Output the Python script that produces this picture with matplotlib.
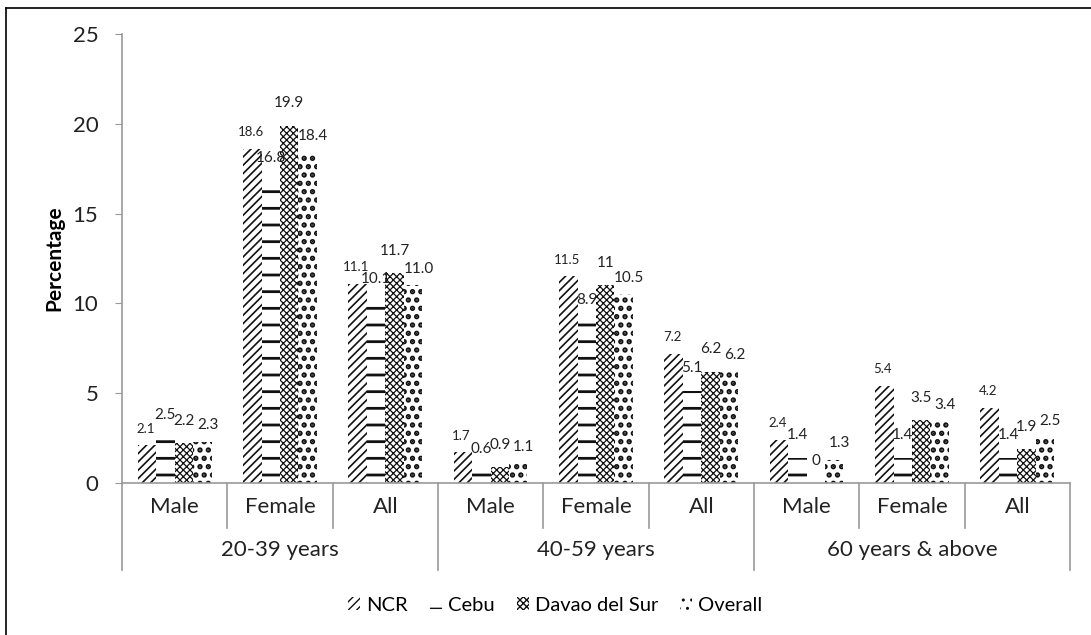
import matplotlib.pyplot as plt
import numpy as np

plt.rcParams['font.family'] = ['Lato', 'DejaVu Sans']

groups = ['20-39 years', '40-59 years', '60 years & above']
subcats = ['Male', 'Female', 'All'] * 3
series = ['NCR', 'Cebu', 'Davao del Sur', 'Overall']

ncr = [2.1, 18.6, 11.1, 1.7, 11.5, 7.2, 2.4, 5.4, 4.2]
cebu = [2.5, 16.8, 10.1, 0.6, 8.9, 5.1, 1.4, 1.4, 1.4]
davao = [2.2, 19.9, 11.7, 0.9, 11.0, 6.2, 0.0, 3.5, 1.9]
overall = [2.3, 18.4, 11.0, 1.1, 10.5, 6.2, 1.3, 3.4, 2.5]

ncr_lbl = ['2.1', '18.6', '11.1', '1.7', '11.5', '7.2', '2.4', '5.4', '4.2']
cebu_lbl = ['2.5', '16.8', '10.1', '0.6', '8.9', '5.1', '1.4', '1.4', '1.4']
davao_lbl = ['2.2', '19.9', '11.7', '0.9', '11', '6.2', '0', '3.5', '1.9']
overall_lbl = ['2.3', '18.4', '11.0', '1.1', '10.5', '6.2', '1.3', '3.4', '2.5']

fig = plt.figure(figsize=(10.91, 6.35), dpi=100)
ax = fig.add_axes([0.1118, 0.2394, 0.8689, 0.7071])

x = np.arange(len(subcats))
w = 0.175
hatches = ['////', '-', 'xxxxx', '..']
hlw = [1.2, 2.0, 0.9, 2.6]
data = [ncr, cebu, davao, overall]
labels = [ncr_lbl, cebu_lbl, davao_lbl, overall_lbl]
dx = [-1, 0, 0, 4]
dy = [12, 16.5, 16, 12]
for i, (vals, lbls) in enumerate(zip(data, labels)):
    plt.rcParams['hatch.linewidth'] = hlw[i]
    pos = x + (i - 1.5) * w
    ax.bar(pos, vals, w, color='white', edgecolor='#111111', linewidth=0,
           hatch=hatches[i], label=series[i])
    fs = 9.5 if i == 0 else 11
    for p, v, t in zip(pos, vals, lbls):
        ax.annotate(t, (p, v), xytext=(dx[i], dy[i]), textcoords='offset points',
                    ha='center', va='center', fontsize=fs, color='#222222')

ax.set_xlim(-0.5, len(subcats) - 0.5)
ax.set_ylim(0, 25)
ax.set_yticks(range(0, 26, 5))
ax.tick_params(axis='y', labelsize=16, colors='#222222', direction='out', length=5, color='#999999', pad=12)
ax.set_xticks([])
for s in ['top', 'right']:
    ax.spines[s].set_visible(False)
for s in ['left', 'bottom']:
    ax.spines[s].set_color('#999999')
    ax.spines[s].set_linewidth(1.2)
ax.set_ylabel('Percentage', fontsize=15, fontweight='bold', labelpad=6)

# multi-level category axis
tr = ax.get_xaxis_transform()
for k in range(len(subcats) + 1):
    xb = k - 0.5
    low = -0.194 if k % 3 == 0 else -0.100
    ax.plot([xb, xb], [0, low], transform=tr, color='#999999', lw=1.2, clip_on=False)
for k, name in enumerate(subcats):
    ax.text(k, -0.053, name, transform=tr, ha='center', va='center', fontsize=16, color='#222222')
for g, name in enumerate(groups):
    ax.text(g * 3 + 1, -0.149, name, transform=tr, ha='center', va='center', fontsize=16, color='#222222')

plt.rcParams['hatch.linewidth'] = 1.0
leg = ax.legend(loc='center', bbox_to_anchor=(0.457, -0.272), ncol=4, frameon=False,
                fontsize=14.5, handlelength=0.6, handleheight=0.6, handletextpad=0.3,
                columnspacing=1.1)

# outer frame
fig.add_artist(plt.Line2D([0.0055, 0.0055], [0.987, 0.0], color='black', lw=1.2))
fig.add_artist(plt.Line2D([0.0055, 1.0], [0.987, 0.987], color='black', lw=1.2))

fig.savefig('out.png', dpi=100)
